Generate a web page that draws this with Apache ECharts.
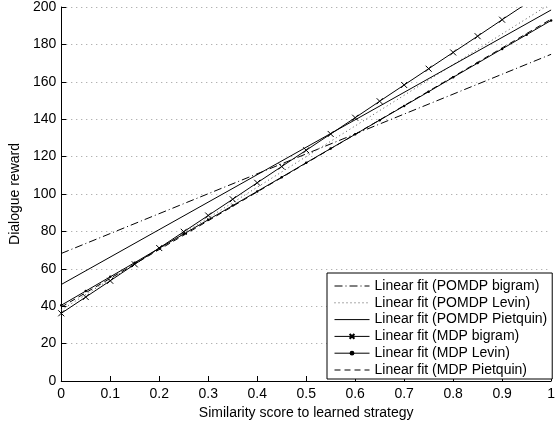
<!DOCTYPE html>
<html>
<head>
<meta charset="utf-8">
<script src="https://cdn.jsdelivr.net/npm/echarts@6/dist/echarts.min.js"></script>
<style>
  html, body { margin: 0; padding: 0; background: #fff; }
  #chart { width: 558px; height: 425px; }
</style>
</head>
<body>
<div id="chart"></div>
<script>
// values
var fitX = [0, 1];
var pomdpBigram = [68.2, 174.7];
var pomdpLevin = [38.0, 202.0];
var pomdpPietquin = [51.6, 198.4];
var mdpPietquin = [39.5, 193.5];

var bigramX = [0, 0.05, 0.1, 0.15, 0.2, 0.25, 0.3, 0.35, 0.4, 0.45, 0.5, 0.55, 0.6, 0.65, 0.7, 0.75, 0.8, 0.85, 0.9, 1];
var mdpBigram = [36.2, 44.9, 53.6, 62.4, 71.1, 79.8, 88.5, 97.2, 106.0, 114.7, 123.4, 132.1, 140.8, 149.6, 158.3, 167.0, 175.7, 184.4, 193.2, 210.6];

var levinX = [0, 0.05, 0.1, 0.15, 0.2, 0.25, 0.3, 0.35, 0.4, 0.45, 0.5, 0.55, 0.6, 0.65, 0.7, 0.75, 0.8, 0.85, 0.9, 0.95, 1];
var mdpLevin = [40.5, 48.1, 55.7, 63.3, 71.0, 78.6, 86.2, 93.8, 101.4, 109.0, 116.7, 124.3, 131.9, 139.5, 147.1, 154.7, 162.4, 170.0, 177.6, 185.2, 192.8];

var names = [
  'Linear fit (POMDP bigram)',
  'Linear fit (POMDP Levin)',
  'Linear fit (POMDP Pietquin)',
  'Linear fit (MDP bigram)',
  'Linear fit (MDP Levin)',
  'Linear fit (MDP Pietquin)'
];
// which legend entries show a marker
var hasMarker = [false, false, false, true, true, false];

function pairs(xs, ys) {
  return xs.map(function (x, i) { return [x, ys[i]]; });
}

var font = "'Liberation Sans', Arial, Helvetica, sans-serif";

var myChart = echarts.init(document.getElementById('chart'));

// last bigram point only carries the line up past the top edge
var bigramData = pairs(bigramX, mdpBigram);
bigramData[bigramData.length - 1] = { value: bigramData[bigramData.length - 1], symbol: 'none' };

var legendData = names.map(function (n, i) {
  return hasMarker[i] ? { name: n } : { name: n, itemStyle: { opacity: 0 } };
});

var option = {
  animation: false,
  backgroundColor: '#fff',
  textStyle: { fontFamily: font },
  grid: { left: 61, right: 3, top: 7, bottom: 39 },
  legend: {
    orient: 'vertical',
    left: 327,
    top: 273,
    padding: [6, 5, 2, 7],
    itemGap: 2.8,
    itemWidth: 35,
    itemHeight: 6,
    backgroundColor: '#fff',
    borderColor: '#000',
    borderWidth: 1,
    borderRadius: 0,
    lineStyle: { width: 1 },
    textStyle: { fontFamily: font, fontSize: 14, color: '#000' },
    data: legendData
  },
  xAxis: {
    type: 'value',
    min: 0, max: 1, interval: 0.1,
    name: 'Similarity score to learned strategy',
    nameLocation: 'middle',
    nameGap: 25,
    nameTextStyle: { fontSize: 14, color: '#000', fontFamily: font },
    axisLine: { lineStyle: { color: '#000', width: 1 } },
    axisTick: { inside: true, length: 5, lineStyle: { color: '#000' } },
    axisLabel: { fontSize: 14, color: '#000', margin: 6, fontFamily: font },
    splitLine: { show: false }
  },
  yAxis: {
    type: 'value',
    min: 0, max: 200, interval: 20,
    name: 'Dialogue reward',
    nameLocation: 'middle',
    nameGap: 38,
    nameTextStyle: { fontSize: 14, color: '#000', fontFamily: font },
    axisLine: { show: true, lineStyle: { color: '#000', width: 1 } },
    axisTick: { show: true, inside: true, length: 5, lineStyle: { color: '#000' } },
    axisLabel: { fontSize: 14, color: '#000', margin: 5, fontFamily: font },
    splitLine: { show: true, lineStyle: { color: '#999', type: [1, 4], width: 1 } }
  },
  series: [
    {
      name: names[0], type: 'line', symbol: 'none',
      lineStyle: { color: '#000', width: 1, type: [8, 3, 1, 3] },
      itemStyle: { color: '#000' },
      data: pairs(fitX, pomdpBigram)
    },
    {
      name: names[1], type: 'line', symbol: 'none',
      lineStyle: { color: '#555', width: 1, type: [1, 3] },
      itemStyle: { color: '#555' },
      data: pairs(fitX, pomdpLevin)
    },
    {
      name: names[2], type: 'line', symbol: 'none',
      lineStyle: { color: '#000', width: 1, type: 'solid' },
      itemStyle: { color: '#000' },
      data: pairs(fitX, pomdpPietquin)
    },
    {
      name: names[3], type: 'line',
      symbol: 'path://M0,0L10,10M10,0L0,10',
      symbolSize: 6,
      lineStyle: { color: '#000', width: 1 },
      itemStyle: { color: 'none', borderColor: '#000', borderWidth: 1 },
      data: bigramData
    },
    {
      name: names[4], type: 'line',
      symbol: 'circle', symbolSize: 2.5,
      lineStyle: { color: '#000', width: 1 },
      itemStyle: { color: '#000', borderWidth: 0 },
      data: pairs(levinX, mdpLevin)
    },
    {
      name: names[5], type: 'line', symbol: 'none',
      lineStyle: { color: '#000', width: 1, type: [6, 4] },
      itemStyle: { color: '#000' },
      data: pairs(fitX, mdpPietquin)
    }
  ]
};

myChart.setOption(option);
</script>
</body>
</html>
